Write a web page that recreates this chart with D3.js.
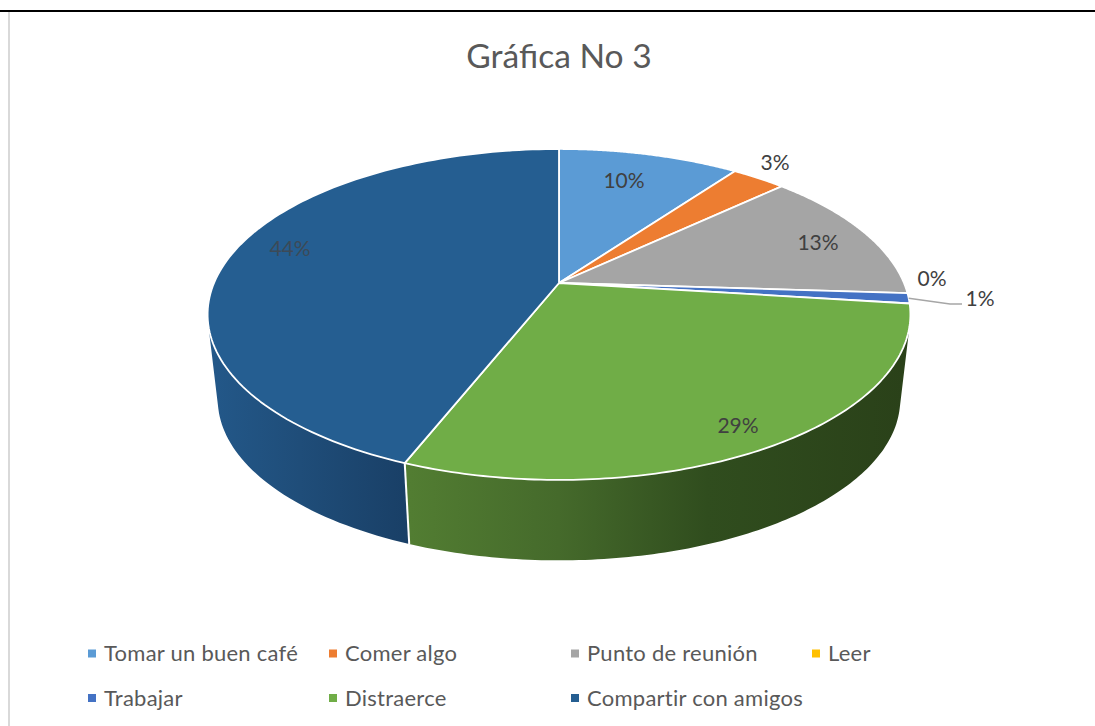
<!DOCTYPE html>
<html><head><meta charset="utf-8">
<script src="https://cdn.jsdelivr.net/npm/d3@7"></script>
<style>html,body{margin:0;padding:0;background:#fff}svg{display:block}text{font-family:Lato,"Open Sans",sans-serif}</style>
</head><body><script>
const categories = ["Tomar un buen café","Comer algo","Punto de reunión","Leer","Trabajar","Distraerce","Compartir con amigos"];
const values = [10,3,13,0,1,29,44];
const labels = ["10%","3%","13%","0%","1%","29%","44%"];
const colors = ["#5b9bd5","#ed7d31","#a5a5a5","#ffc000","#4472c4","#70ad47","#255e91"];
const title = "Gráfica No 3";

const layout = {
  W:1095,H:726,
  top:{cx:559,cy:283,R:345,k:159.5,p:0.19},
  bottom:{cx:559,cy:369,R:335,k:155,p:0.19},
  labelPos:[[624,181],[775,163],[818,243],[932,279],[980,299],[738,426],[290,249]],
  legendCols:[88,329,571,812], legendRows:[653.5,698]
};
const svg=d3.select("body").append("svg").attr("width",layout.W).attr("height",layout.H);
const defs=svg.append("defs");

// frame lines of the source document
svg.append("rect").attr("x",0).attr("y",10).attr("width",layout.W).attr("height",2).attr("fill","#000");
svg.append("rect").attr("x",8).attr("y",12).attr("width",2).attr("height",layout.H-12).attr("fill","#d9d9d9");

svg.append("text").attr("x",559).attr("y",68).attr("text-anchor","middle")
  .attr("font-size",33.6).attr("fill","#595959").text(title);

const arcs=d3.pie().sort(null).value(d=>d)(values);
const proj=(g,t)=>{const w=1+g.p*Math.cos(t);
  return [g.cx+g.R*Math.sin(t)/w, g.cy-g.k*Math.cos(t)/w];};
const steps=(a,b)=>d3.range(0,121).map(i=>a+(b-a)*i/120);
const line=d3.line();

// side wall gradients
function grad(id,stops,x1,x2){
  const g=defs.append("linearGradient").attr("id",id).attr("gradientUnits","userSpaceOnUse")
    .attr("x1",x1).attr("x2",x2).attr("y1",0).attr("y2",0);
  stops.forEach(([o,c])=>g.append("stop").attr("offset",o).attr("stop-color",c));
}
grad("gNavy",[[0,"#235889"],[0.45,"#1f4d79"],[1,"#193f66"]],210,410);
grad("gGreen",[[0,"#527d32"],[0.3,"#456a2b"],[0.6,"#304d1e"],[1,"#2a4119"]],410,905);

const sideFill={5:"url(#gGreen)",6:"url(#gNavy)"};
[5,6].forEach(i=>{
  const a=arcs[i];
  const ts=steps(a.startAngle,a.endAngle);
  // ruled strips between the rims, all wound the same way so overlaps do not cancel
  const d=d3.pairs(ts).map(([t0,t1])=>{
    const q=[proj(layout.top,t0),proj(layout.top,t1),proj(layout.bottom,t1),proj(layout.bottom,t0)];
    if(d3.polygonArea(q)<0) q.reverse();
    return line(q)+"Z";
  }).join("");
  svg.append("path").attr("d",d).attr("fill",sideFill[i]);
});
// divider on the front wall
{
  const t=arcs[5].endAngle;
  svg.append("path").attr("d",line([proj(layout.top,t),proj(layout.bottom,t)]))
    .attr("stroke","#fff").attr("stroke-width",2).attr("fill","none");
}
// top face
arcs.forEach((a,i)=>{
  if(a.endAngle-a.startAngle<=0) return;
  const pts=[[layout.top.cx,layout.top.cy]].concat(steps(a.startAngle,a.endAngle).map(t=>proj(layout.top,t)));
  svg.append("path").attr("d",line(pts)+"Z").attr("fill",colors[i])
    .attr("stroke","#fff").attr("stroke-width",1.8).attr("stroke-linejoin","round");
});

// leader line for the small slice
{
  const a=arcs[4], s=proj(layout.top,(a.startAngle+a.endAngle)/2);
  const [lx,ly]=layout.labelPos[4];
  svg.append("path").attr("d",line([s,[lx-30,ly+5],[lx-18,ly+5]]))
    .attr("fill","none").attr("stroke","#a6a6a6").attr("stroke-width",1.4);
}
// data labels
labels.forEach((t,i)=>{
  svg.append("text").attr("x",layout.labelPos[i][0]).attr("y",layout.labelPos[i][1])
   .attr("dy","0.35em").attr("text-anchor","middle").attr("font-size",21)
   .attr("fill",i===6?"#3c4a57":"#404040").text(t);
});
// legend
categories.forEach((c,i)=>{
  const col=i<4?i:i-4, row=i<4?0:1;
  const x=layout.legendCols[col], y=layout.legendRows[row];
  svg.append("rect").attr("x",x).attr("y",y-4).attr("width",8).attr("height",8).attr("fill",colors[i]);
  svg.append("text").attr("x",x+16).attr("y",y).attr("dy","0.35em").attr("font-size",22)
    .attr("fill","#595959").attr("letter-spacing",0.25).text(c);
});
</script></body></html>
